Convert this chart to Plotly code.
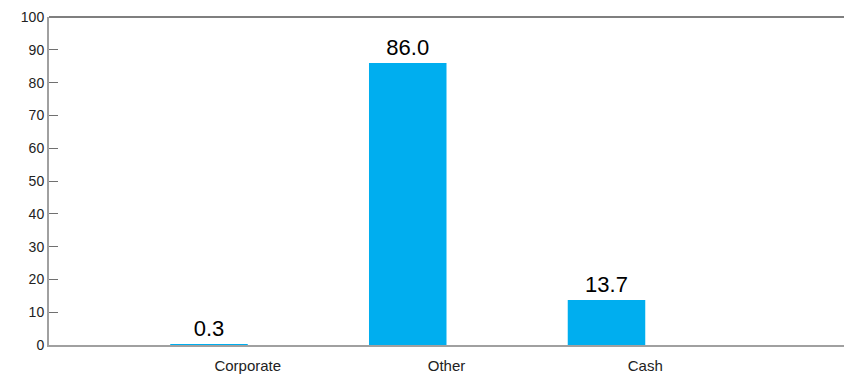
import plotly.graph_objects as go

categories = ["Corporate", "Other", "Cash"]
values = [0.3, 86.0, 13.7]
value_labels = ["0.3", "86.0", "13.7"]
y_ticks = [0, 10, 20, 30, 40, 50, 60, 70, 80, 90, 100]

FONT = "Liberation Sans, Arial, sans-serif"

fig = go.Figure()
fig.add_trace(go.Bar(
    x=categories, y=values,
    text=value_labels, textposition="outside",
    textfont=dict(family=FONT, size=22, color="#000000"),
    marker=dict(color="#00AEEF", line=dict(width=0)),
    width=0.39, offset=-0.39,
    cliponaxis=False,
))

fig.update_layout(
    width=844, height=376,
    margin=dict(l=49, r=0, t=17, b=31, autoexpand=False),
    plot_bgcolor="white", paper_bgcolor="white",
    showlegend=False,
    font=dict(family=FONT, size=14, color="#222222"),
    xaxis=dict(
        type="category", range=[-1, 3], automargin=False,
        showline=True, linecolor="#a0a0a0", linewidth=2,
        ticks="", showgrid=False, zeroline=False,
        ticklabelstandoff=6,
        tickfont=dict(family=FONT, size=15, color="#222222"),
    ),
    yaxis=dict(
        range=[0, 100], tickvals=y_ticks, automargin=False,
        showline=True, linecolor="#a0a0a0", linewidth=2,
        ticks="inside", ticklen=9, tickcolor="#707070", tickwidth=1,
        showgrid=False, zeroline=False,
        tickfont=dict(family=FONT, size=14, color="#222222"),
    ),
    shapes=[dict(type="line", xref="paper", yref="paper", x0=0, x1=1, y0=1, y1=1,
                 line=dict(color="#555555", width=1.5))],
)

fig.write_html(
    "out.html",
    config={"displayModeBar": False},
    post_script="document.body.style.margin='0';document.body.style.overflow='hidden';",
)
